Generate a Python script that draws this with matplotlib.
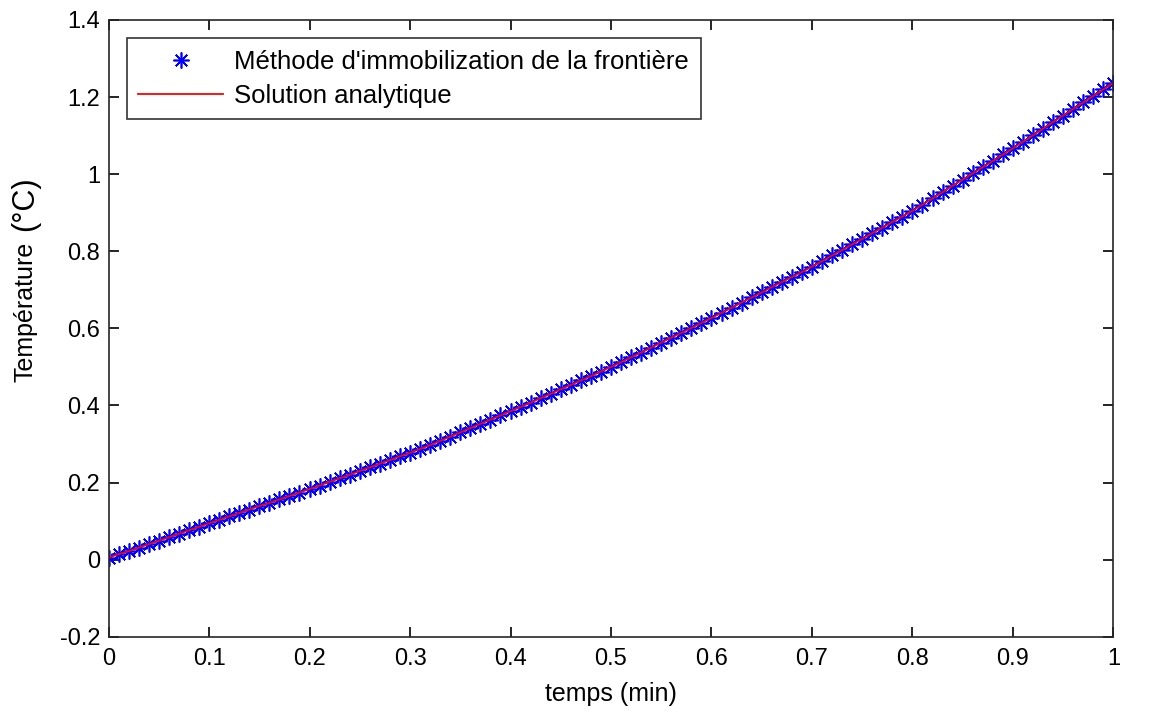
import numpy as np
import matplotlib
matplotlib.use('Agg')
import matplotlib.pyplot as plt

plt.rcParams['font.family'] = ['Liberation Sans', 'DejaVu Sans']

# temps (min), pas de 0.01
temps = np.linspace(0, 1, 101)

# temperature (methode numerique)
methode = [0.005, 0.014, 0.022, 0.031, 0.040, 0.049, 0.058, 0.067, 0.076, 0.085,
           0.094, 0.103, 0.112, 0.121, 0.130, 0.139, 0.147, 0.156, 0.165, 0.174,
           0.183, 0.192, 0.202, 0.211, 0.220, 0.230, 0.239, 0.249, 0.258, 0.268,
           0.277, 0.287, 0.297, 0.308, 0.319, 0.330, 0.341, 0.352, 0.363, 0.374,
           0.385, 0.396, 0.407, 0.419, 0.430, 0.442, 0.453, 0.465, 0.476, 0.488,
           0.500, 0.512, 0.525, 0.537, 0.550, 0.563, 0.576, 0.588, 0.601, 0.614,
           0.627, 0.640, 0.653, 0.667, 0.680, 0.693, 0.707, 0.720, 0.733, 0.746,
           0.760, 0.774, 0.789, 0.803, 0.818, 0.832, 0.847, 0.861, 0.876, 0.890,
           0.905, 0.921, 0.937, 0.953, 0.970, 0.986, 1.002, 1.018, 1.034, 1.051,
           1.067, 1.084, 1.101, 1.118, 1.135, 1.152, 1.169, 1.186, 1.203, 1.220,
           1.237]
# solution analytique (confondue avec la methode a l'oeil)
analytique = list(methode)

xticks = [0, 0.1, 0.2, 0.3, 0.4, 0.5, 0.6, 0.7, 0.8, 0.9, 1]
yticks = [-0.2, 0, 0.2, 0.4, 0.6, 0.8, 1, 1.2, 1.4]

fig = plt.figure(figsize=(11.55, 7.13), dpi=100)
ax = fig.add_axes([0.094, 0.107, 0.870, 0.865])

ax.plot(temps, methode, linestyle='none', marker=(8, 2, 0), markersize=11.5,
        markeredgewidth=1.2, color='#0000ff', label="Méthode d'immobilization de la frontière")
ax.plot(temps, analytique, '-', color='#ff0000', linewidth=1.3, label='Solution analytique')

ax.set_xlim(0, 1)
ax.set_ylim(-0.2, 1.4)
ax.set_xticks(xticks)
ax.set_xticklabels([('%g' % t) for t in xticks])
ax.set_yticks(yticks)
ax.set_yticklabels([('%g' % t) for t in yticks])
ax.tick_params(direction='in', top=True, right=True, length=7, width=1.2,
               labelsize=17)
ax.tick_params(axis='x', pad=8, labelsize=17)
ax.tick_params(axis='y', pad=6)
for s in ax.spines.values():
    s.set_linewidth(1.2)
    s.set_color('#262626')

fig.text(0.529, 0.027, 'temps (min)', fontsize=18, ha='center', va='center')
fig.text(0.022, 0.562, 'Température', rotation=90, fontsize=18,
         ha='center', va='center')
fig.text(0.022, 0.715, '(°C)', rotation=90, fontsize=22,
         ha='center', va='center')

leg = ax.legend(loc='upper left', fontsize=18.5, frameon=True, fancybox=False,
                edgecolor='black', borderaxespad=0.7, handlelength=3.3,
                borderpad=0.45, labelspacing=0.4, handletextpad=0.45)
leg.get_frame().set_linewidth(1.2)

fig.savefig('out.png', dpi=100)
